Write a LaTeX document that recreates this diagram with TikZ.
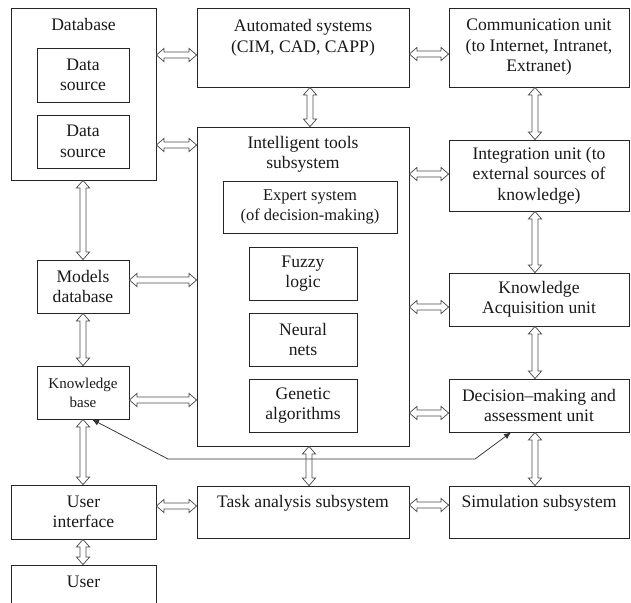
\documentclass[tikz,border=0pt]{standalone}
\usepackage{fontspec}
\setmainfont{Liberation Serif}
\usetikzlibrary{arrows.meta,calc}
\begin{document}
\begin{tikzpicture}[x=1pt,y=-1pt,
  box/.style={draw=black!85, line width=0.8pt, inner sep=0pt, align=center,
    font=\fontsize{17.6}{20.5}\selectfont, text=black!90},
  lbl/.style={inner sep=0pt, font=\fontsize{17.6}{20.5}\selectfont, anchor=base, text=black!90},
  harr/.style={draw=black!70, line width=0.75pt, to path={
    let \p1=(\tikztostart), \p2=(\tikztotarget) in
    (\x1,\y1) -- (\x1+7.5pt,\y1+6.5pt) -- (\x1+7.5pt,\y1+3pt) -- (\x2-7.5pt,\y1+3pt) -- (\x2-7.5pt,\y1+6.5pt)
    -- (\x2,\y1) -- (\x2-7.5pt,\y1-6.5pt) -- (\x2-7.5pt,\y1-3pt) -- (\x1+7.5pt,\y1-3pt) -- (\x1+7.5pt,\y1-6.5pt) -- cycle}},
  varr/.style={draw=black!70, line width=0.75pt, to path={
    let \p1=(\tikztostart), \p2=(\tikztotarget) in
    (\x1,\y1) -- (\x1+6.5pt,\y1-7.5pt) -- (\x1+3pt,\y1-7.5pt) -- (\x1+3pt,\y2+7.5pt) -- (\x1+6.5pt,\y2+7.5pt)
    -- (\x1,\y2) -- (\x1-6.5pt,\y2+7.5pt) -- (\x1-3pt,\y2+7.5pt) -- (\x1-3pt,\y1-7.5pt) -- (\x1-6.5pt,\y1-7.5pt) -- cycle}},
  thinarr/.style={draw=black!80, line width=0.75pt, {Latex[length=7pt,width=6pt]}-{Latex[length=7pt,width=6pt]}}
]
\useasboundingbox (0,0) rectangle (631,602);
\clip (0,0) rectangle (631,602);

% left column
\node[box, minimum width=145pt, minimum height=172pt] (db) at (83.5,94) {};
\node[lbl] (dbl) at ([yshift=-23pt]db.north) {Database};
\node[box, minimum width=92pt, minimum height=54pt] (ds1) at (83,75) {Data\\source};
\node[box, minimum width=92pt, minimum height=53pt] (ds2) at (83,141.5) {Data\\source};
\node[box, minimum width=92pt, minimum height=53pt] (mdb) at (83,286.5) {Models\\database};
\node[box, minimum width=92pt, minimum height=53pt, font=\fontsize{15}{19}\selectfont] (kb) at (83,392.5) {Knowledge\\base};
\node[box, minimum width=145pt, minimum height=54pt] (ui) at (83.5,512) {User\\interface};
\node[box, minimum width=145pt, minimum height=55pt] (user) at (83.5,592.5) {};
\node[lbl] (userl) at ([yshift=-23pt]user.north) {User};

% middle column
\node[box, minimum width=212pt, minimum height=79pt] (auto) at (303,47.5) {};
\node[lbl] (autol1) at ([yshift=-24pt]auto.north) {Automated systems};
\node[lbl] (autol2) at ([yshift=-45pt]auto.north) {(CIM, CAD, CAPP)};
\node[box, minimum width=212pt, minimum height=319pt] (its) at (303,286.5) {};
\node[lbl] (itsl1) at ([yshift=-22pt]its.north) {Intelligent tools};
\node[lbl] (itsl2) at ([yshift=-42pt]its.north) {subsystem};
\node[box, minimum width=174pt, minimum height=52pt, font=\fontsize{16.5}{19.5}\selectfont] (exp) at (310,207) {Expert system\\(of decision-making)};
\node[box, minimum width=108pt, minimum height=53pt] (fuz) at (303,273.5) {Fuzzy\\logic};
\node[box, minimum width=108pt, minimum height=53pt] (neu) at (303,339.5) {Neural\\nets};
\node[box, minimum width=108pt, minimum height=53pt] (gen) at (303,405.5) {Genetic\\algorithms};
\node[box, minimum width=212pt, minimum height=52pt] (task) at (303,512) {};
\node[lbl] (taskl) at ([yshift=-22pt]task.north) {Task analysis subsystem};

% right column
\node[box, minimum width=180pt, minimum height=79pt] (com) at (539,47.5) {Communication unit\\(to Internet, Intranet,\\Extranet)};
\node[box, minimum width=180pt, minimum height=71pt] (int) at (539,175.5) {Integration unit (to\\external sources of\\knowledge)};
\node[box, minimum width=180pt, minimum height=53pt] (ka) at (539,299.5) {Knowledge\\Acquisition unit};
\node[box, minimum width=180pt, minimum height=53pt] (dec) at (539,405.5) {Decision\textendash making and\\assessment unit};
\node[box, minimum width=180pt, minimum height=52pt] (sim) at (539,512) {};
\node[lbl] (siml) at ([yshift=-22pt]sim.north) {Simulation subsystem};

% thin feedback line
\draw[thinarr] (kb.south -| 92,0) -- (168,459) -- (475,459) -- (dec.south -| 511,0);

% horizontal double arrows
\draw[harr] (db.east |- 0,55) to (auto.west |- 0,55);
\draw[harr] (db.east |- 0,145) to (its.west |- 0,145);
\draw[harr] (auto.east |- 0,54) to (com.west |- 0,54);
\draw[harr] (its.east |- 0,174) to (int.west |- 0,174);
\draw[harr] (mdb.east |- 0,280) to (its.west |- 0,280);
\draw[harr] (kb.east |- 0,400) to (its.west |- 0,400);
\draw[harr] (its.east |- 0,307) to (ka.west |- 0,307);
\draw[harr] (its.east |- 0,413) to (dec.west |- 0,413);
\draw[harr] (ui.east |- 0,506) to (task.west |- 0,506);
\draw[harr] (task.east |- 0,505) to (sim.west |- 0,505);

% vertical double arrows
\draw[varr] (auto.south -| 310,0) to (its.north -| 310,0);
\draw[varr] (com.south -| 535,0) to (int.north -| 535,0);
\draw[varr] (int.south -| 535,0) to (ka.north -| 535,0);
\draw[varr] (ka.south -| 535,0) to (dec.north -| 535,0);
\draw[varr] (dec.south -| 535,0) to (sim.north -| 535,0);
\draw[varr] (db.south -| 83,0) to (mdb.north -| 83,0);
\draw[varr] (mdb.south -| 83,0) to (kb.north -| 83,0);
\draw[varr] (kb.south -| 83,0) to (ui.north -| 83,0);
\draw[varr] (its.south -| 309,0) to (task.north -| 309,0);
\draw[varr] (ui.south -| 83,0) to (user.north -| 83,0);
\end{tikzpicture}
\end{document}
